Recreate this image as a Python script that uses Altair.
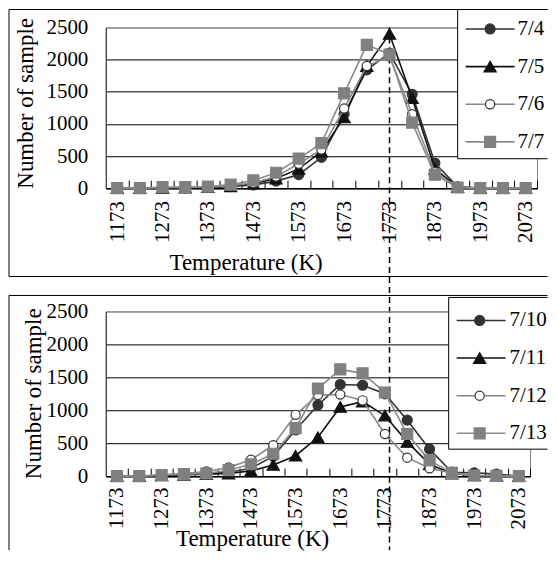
import altair as alt
import pandas as pd

# ---------------- data ----------------
temperatures = [1173, 1223, 1273, 1323, 1373, 1423, 1473, 1523, 1573, 1623,
                1673, 1723, 1773, 1823, 1873, 1923, 1973, 2023, 2073]
labelled_temperatures = [1173, 1273, 1373, 1473, 1573, 1673, 1773, 1873, 1973, 2073]
y_ticks = [0, 500, 1000, 1500, 2000, 2500]
marked_temperature = [1773]

top_dates = ["7/4", "7/5", "7/6", "7/7"]
samples_7_4 = [0, 0, 5, 5, 10, 25, 50, 110, 210, 480, 1150, 1840, 2100, 1460, 390, 20, 0, 0, 0]
samples_7_5 = [0, 0, 5, 10, 15, 30, 70, 150, 300, 570, 1100, 1900, 2400, 1400, 300, 15, 0, 0, 0]
samples_7_6 = [0, 0, 10, 10, 20, 40, 80, 180, 380, 600, 1240, 1900, 2050, 1150, 250, 15, 0, 0, 0]
samples_7_7 = [0, 0, 15, 15, 25, 55, 120, 240, 460, 700, 1475, 2230, 2080, 1020, 210, 10, 0, 0, 0]

bottom_dates = ["7/10", "7/11", "7/12", "7/13"]
samples_7_10 = [0, 0, 10, 30, 40, 60, 120, 300, 700, 1080, 1390, 1380, 1250, 850, 410, 60, 50, 30, 0]
samples_7_11 = [0, 0, 10, 20, 30, 40, 80, 170, 310, 590, 1050, 1130, 920, 520, 180, 40, 10, 5, 0]
samples_7_12 = [0, 0, 20, 40, 70, 130, 250, 470, 930, 1230, 1240, 1150, 640, 280, 120, 50, 10, 5, 0]
samples_7_13 = [0, 0, 15, 30, 40, 90, 180, 340, 730, 1330, 1620, 1560, 1270, 640, 240, 50, 10, 5, 0]

# ---------------- styles ----------------
FONT = "Liberation Serif"
line_colors = ["#333333", "#111111", "#888888", "#8c8c8c"]
marker_shapes = ["circle", "triangle-up", "circle", "square"]
marker_fills = ["#333333", "#111111", "#ffffff", "#808080"]
marker_strokes = ["#333333", "#111111", "#333333", "#808080"]
marker_sizes = [100, 150, 85, 121]


def long_table(dates, series):
    rows = []
    for d, vals in zip(dates, series):
        for t, v in zip(temperatures, vals):
            rows.append({"date": d, "temperature": t, "samples": v})
    return pd.DataFrame(rows)


def px_rule(x1, x2, y1, y2, color="black", width=1):
    return (alt.Chart(pd.DataFrame({"k": [0]}))
            .mark_rule(color=color, strokeWidth=width)
            .encode(x=alt.value(x1), x2=alt.value(x2), y=alt.value(y1), y2=alt.value(y2)))


def panel(dates, series, width, height, label_pad, y_title_x, y_title_y,
          x_title_x, x_title_y, legend, box, frame, dash_bottom):
    data = long_table(dates, series)
    half_cat = (temperatures[1] - temperatures[0]) / 2
    half_step = width / len(temperatures) / 2
    label_expr = ("indexof([" + ",".join(str(v) for v in labelled_temperatures)
                  + "], datum.value) >= 0 ? datum.label : ''")
    x_enc = alt.X(
        "temperature:Q",
        scale=alt.Scale(domain=[temperatures[0] - half_cat, temperatures[-1] + half_cat],
                        nice=False, zero=False),
        axis=alt.Axis(
            values=temperatures, format="d", labelExpr=label_expr,
            labelAngle=270, labelAlign="right", labelBaseline="middle",
            labelFont=FONT, labelFontSize=21, labelColor="black", labelPadding=label_pad,
            labelOverlap=False, labelFlush=False,
            tickSize={"expr": "-8"}, tickOffset=half_step, labelOffset=-half_step,
            tickColor="black", tickWidth=1,
            domainColor="black", domainWidth=1.5, grid=False,
            title="Temperature (K)", titleFont=FONT, titleFontSize=23,
            titleFontWeight="normal", titleColor="black",
            titleX=x_title_x, titleY=x_title_y,
            titleAlign="center", titleBaseline="alphabetic",
        ),
    )
    y_enc = alt.Y(
        "samples:Q",
        scale=alt.Scale(domain=[y_ticks[0], y_ticks[-1]], nice=False),
        axis=alt.Axis(
            values=y_ticks, format="d", ticks=False, labelPadding=18,
            labelFont=FONT, labelFontSize=21,
            labelColor="black", domainColor="#404040", domainWidth=1.2,
            grid=True, gridWidth=1,
            gridColor=alt.condition("datum.value == %d" % y_ticks[-1],
                                    alt.value("#808080"), alt.value("black")),
            title="Number of sample", titleFont=FONT, titleFontSize=23,
            titleFontWeight="normal",
            titleColor="black", titleAngle=270, titleAlign="center",
            titleBaseline="middle", titleX=y_title_x, titleY=y_title_y,
        ),
    )
    base = alt.Chart(data)
    layers = []
    if dash_bottom is not None:
        layers.append(
            alt.Chart(pd.DataFrame({"temperature": marked_temperature}))
            .mark_rule(color="black", strokeWidth=1.5, strokeDash=[6, 4])
            .encode(x=x_enc, y=alt.value(0), y2=alt.value(dash_bottom)))
    for i, d in enumerate(dates):
        sub = base.transform_filter(alt.datum.date == d)
        layers.append(sub.mark_line(color=line_colors[i], strokeWidth=1.6)
                      .encode(x=x_enc, y=y_enc))
        layers.append(sub.mark_point(shape=marker_shapes[i], filled=True,
                                     fill=marker_fills[i], stroke=marker_strokes[i],
                                     strokeWidth=1.2, size=marker_sizes[i], opacity=1)
                      .encode(x=x_enc, y=y_enc))
    # legend box (white; its right side runs off the picture)
    bx1, bx2, by1, by2 = box
    layers.append(alt.Chart(pd.DataFrame({"k": [0]})).mark_rect(color="white")
                  .encode(x=alt.value(bx1), x2=alt.value(bx2),
                          y=alt.value(by1), y2=alt.value(by2)))
    layers.append(px_rule(bx1, bx1, by1, by2))
    layers.append(px_rule(bx1, bx2, by1, by1))
    layers.append(px_rule(bx1, bx2, by2, by2))
    # legend entries
    lx1, lx2, lxm, lxt, ly0, ldy = legend
    for i, d in enumerate(dates):
        yy = ly0 + i * ldy
        entry = alt.Chart(pd.DataFrame({"date": [d]}))
        layers.append(px_rule(lx1, lx2, yy, yy, color=line_colors[i], width=1.6))
        layers.append(entry.mark_point(shape=marker_shapes[i], filled=True,
                                       fill=marker_fills[i], stroke=marker_strokes[i],
                                       strokeWidth=1.2, size=marker_sizes[i], opacity=1)
                      .encode(x=alt.value(lxm), y=alt.value(yy)))
        layers.append(entry.mark_text(font=FONT, fontSize=21, color="black",
                                      align="left", baseline="middle")
                      .encode(x=alt.value(lxt), y=alt.value(yy), text="date:N"))
    # frame of the panel
    for (x1, x2, y1, y2) in frame:
        layers.append(px_rule(x1, x2, y1, y2))
    return alt.layer(*layers).properties(width=width, height=height)


top = panel(
    top_dates, [samples_7_4, samples_7_5, samples_7_6, samples_7_7],
    width=432, height=161, label_pad=20.5,
    y_title_x=-80, y_title_y=75.5, x_title_x=140, x_title_y=81.5,
    legend=(360.5, 409.5, 385, 412.5, 1.5, 37.7),
    box=(352.5, 442.5, -18, 131.5),
    frame=[(-97, -97, -18, 249.5), (-97, 442.5, -18, -18), (-97, 442.5, 249.5, 249.5)],
    dash_bottom=523.5,
)
bottom = panel(
    bottom_dates, [samples_7_10, samples_7_11, samples_7_12, samples_7_13],
    width=425, height=165, label_pad=19,
    y_title_x=-72, y_title_y=82, x_title_x=146.5, x_title_y=69,
    legend=(351.5, 400.5, 374.5, 404.5, 9, 37.7),
    box=(343.5, 442.5, -14, 138),
    frame=[(-97, -97, -16, 239), (-97, 442.5, -16, -16)],
    dash_bottom=None,
)

chart = (
    alt.vconcat(top, bottom, spacing=123.5, bounds="flush")
    .properties(padding=0, background="white")
    .configure(font=FONT)
    .configure_view(stroke="#808080", strokeWidth=1)
)

chart.save("out.html", embed_options={"renderer": "svg", "actions": False})
